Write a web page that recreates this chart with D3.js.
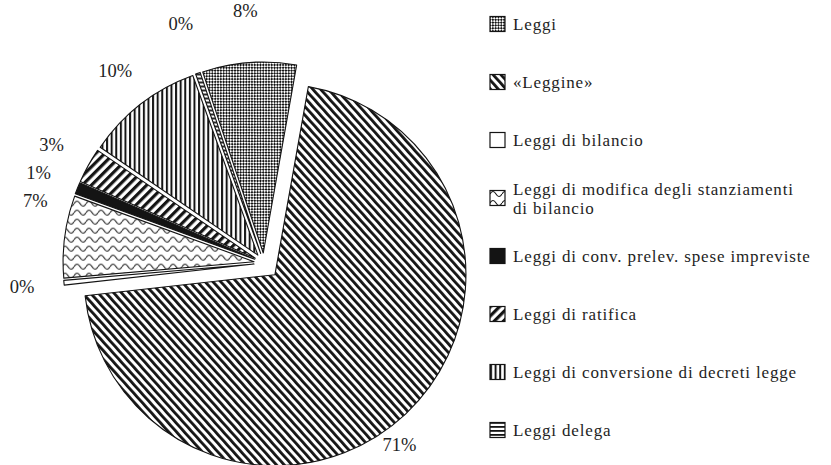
<!DOCTYPE html>
<html><head><meta charset="utf-8">
<script src="https://cdn.jsdelivr.net/npm/d3@7"></script>
<style>
body{margin:0;background:#fff}
text{font-family:"Liberation Serif","DejaVu Serif",serif;fill:#1e1e1e}
</style>
</head><body>
<svg id="c" width="831" height="465"></svg>
<script>
// ---- data ----
const categories = ["Leggi","«Leggine»","Leggi di bilancio","Leggi di modifica degli stanziamenti di bilancio","Leggi di conv. prelev. spese impreviste","Leggi di ratifica","Leggi di conversione di decreti legge","Leggi delega"];
const values = [8, 71, 0.4, 7, 1, 3, 10, 0.4];
const percentLabels = ["8%","71%","0%","7%","1%","3%","10%","0%"];
const legendLines = [["Leggi"],["«Leggine»"],["Leggi di bilancio"],["Leggi di modifica degli stanziamenti","di bilancio"],["Leggi di conv. prelev. spese impreviste"],["Leggi di ratifica"],["Leggi di conversione di decreti legge"],["Leggi delega"]];

// ---- setup ----
const svg = d3.select("#c");
const defs = svg.append("defs");
const ink = "#141414";

function pat(id, w, h, transform){
  const p = defs.append("pattern").attr("id", id).attr("patternUnits","userSpaceOnUse")
    .attr("width", w).attr("height", h);
  if (transform) p.attr("patternTransform", transform);
  p.append("rect").attr("width", w).attr("height", h).attr("fill","#fff");
  return p;
}
// 0 Leggi: fine diagonal checker
let p = pat("p0", 4, 4, "rotate(45)");
p.append("rect").attr("width",2).attr("height",2).attr("fill",ink);
p.append("rect").attr("x",2).attr("y",2).attr("width",2).attr("height",2).attr("fill",ink);
// 1 Leggine: "\" stripes
p = pat("p1", 5.8, 10, "rotate(-42)");
p.append("rect").attr("width",2.8).attr("height",10).attr("fill",ink);
// 2 bilancio: white
p = pat("p2", 4, 4);
// 3 modifica: waves
p = pat("p3", 12, 9);
p.append("path").attr("d","M0,5 Q3,0 6,5 T12,5").attr("fill","none").attr("stroke",ink).attr("stroke-width",1.1);
// 4 conv. prelev.: solid
p = pat("p4", 4, 4);
p.append("rect").attr("width",4).attr("height",4).attr("fill",ink);
// 5 ratifica: "/" stripes
p = pat("p5", 6.5, 10, "rotate(45)");
p.append("rect").attr("width",3.2).attr("height",10).attr("fill",ink);
// 6 conversione: vertical lines
p = pat("p6", 4.6, 10);
p.append("rect").attr("width",2).attr("height",10).attr("fill",ink);
// 7 delega: horizontal lines
p = pat("p7", 10, 4);
p.append("rect").attr("width",10).attr("height",1.8).attr("fill",ink);

// ---- pie ----
const cx = 264, cy = 263, R = 191;
const start = -18.5 * Math.PI/180;
const pie = d3.pie().sort(null).value(d => d).startAngle(start).endAngle(start + 2*Math.PI);
const arcs = pie(values);
const arc = d3.arc().innerRadius(0).outerRadius(R);
const maxIdx = values.indexOf(d3.max(values));

const g = svg.append("g").attr("transform", `translate(${cx},${cy})`);
const slice = g.selectAll("g.s").data(arcs).join("g").attr("class","s")
  .attr("transform", (d,i) => {
    const m = (d.startAngle + d.endAngle)/2, off = i === maxIdx ? 16 : 10;
    return `translate(${off*Math.sin(m)},${-off*Math.cos(m)})`;
  });
slice.append("path").attr("d", arc)
  .attr("fill", (d,i) => `url(#p${i})`)
  .attr("stroke", ink).attr("stroke-width", 1.1).attr("stroke-linejoin","round");

// label placement: outside the arc at mid-angle; small adjustments to avoid crowding
const deg = Math.PI/180;
slice.append("text")
  .attr("transform", (d,i) => {
    let m = (d.startAngle + d.endAngle)/2;
    let r = m < 0 || m > 330*deg ? R + 52 : R + 42;
    if (i === maxIdx) { m += 7*deg; r = R + 20; }
    if (i === 3) { m += 8*deg; r = R + 36; }
    return `translate(${r*Math.sin(m)},${-r*Math.cos(m)})`;
  })
  .attr("text-anchor","middle").attr("dominant-baseline","central")
  .attr("font-size", 18.5)
  .text((d,i) => percentLabels[i]);

// ---- legend ----
const ly = d3.scalePoint().domain(categories).range([24, 430]);
const lg = svg.append("g").selectAll("g").data(categories).join("g")
  .attr("transform", d => `translate(490,${ly(d)})`);
lg.append("rect").attr("x",0).attr("y",-7.5).attr("width",15).attr("height",15)
  .attr("fill", (d,i) => `url(#p${i})`).attr("stroke", ink).attr("stroke-width",1.2);
lg.each(function(d,i){
  const lines = legendLines[i];
  const t = d3.select(this).append("text").attr("x", 23).attr("font-size", 17)
    .attr("letter-spacing", 0.85).attr("dominant-baseline","central");
  lines.forEach((l,k) => t.append("tspan").attr("x",23)
    .attr("y", (k - (lines.length-1)/2) * 19).text(l));
});
</script>
</body></html>
